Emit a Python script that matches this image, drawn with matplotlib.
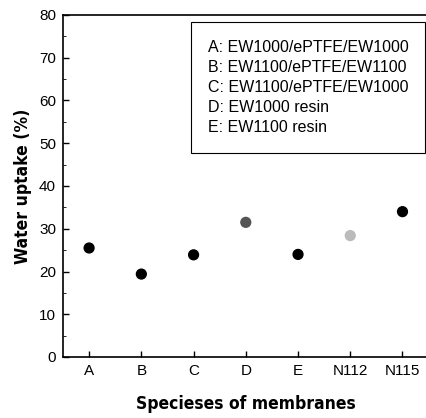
import matplotlib
matplotlib.use("Agg")
import matplotlib.pyplot as plt
from matplotlib.ticker import MultipleLocator
from matplotlib.patches import Rectangle

categories = ["A", "B", "C", "D", "E", "N112", "N115"]
water_uptake = [25.5, 19.4, 23.9, 31.5, 24.0, 28.4, 34.0]
legend_lines = [
    "A: EW1000/ePTFE/EW1000",
    "B: EW1100/ePTFE/EW1100",
    "C: EW1100/ePTFE/EW1000",
    "D: EW1000 resin",
    "E: EW1100 resin",
]
point_colors = ["black", "black", "black", "#555555", "black", "#bbbbbb", "black"]

plt.rcParams['font.family'] = ['Liberation Sans', 'DejaVu Sans']

fig = plt.figure(figsize=(4.27, 4.18), dpi=100)
ax = fig.add_axes([63/427, 1-357/418, (428.6-63)/427, (357-15)/418])

x = list(range(len(categories)))
ax.scatter(x, water_uptake, s=50, c=point_colors, zorder=3)

ax.set_xlim(-0.5, 6.5)
ax.set_ylim(0, 80)
ax.set_xticks(x)
ax.set_xticklabels(categories)
ax.yaxis.set_major_locator(MultipleLocator(10))
ax.yaxis.set_minor_locator(MultipleLocator(5))
ax.tick_params(axis='both', which='both', direction='in', labelsize=11, pad=5)
ax.tick_params(axis='both', which='major', length=4, width=1)
ax.tick_params(axis='y', which='minor', length=2)
ax.spines['right'].set_visible(False)
for s in ['left', 'bottom', 'top']:
    ax.spines[s].set_linewidth(1.2)

ax.set_xlabel("Specieses of membranes", fontsize=12.5, fontweight='bold',
              fontstretch='condensed', family=['DejaVu Sans'], labelpad=12)
ax.set_ylabel("Water uptake (%)", fontsize=12.5, fontweight='bold',
              fontstretch='condensed', family=['DejaVu Sans'], labelpad=5)

ax.add_patch(Rectangle((0.350, 0.5965), 0.640, 0.383, transform=ax.transAxes,
                       facecolor='white', edgecolor='black', linewidth=0.8, zorder=4))
for i, line in enumerate(legend_lines):
    ax.text(0.397, 0.905 - i * 0.0585, line, transform=ax.transAxes,
            fontsize=11.5, va='center', ha='left', zorder=5)

fig.savefig("out.png", dpi=100)
